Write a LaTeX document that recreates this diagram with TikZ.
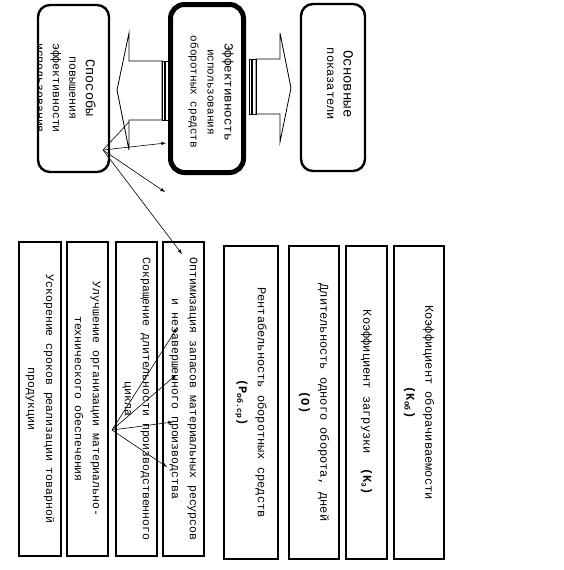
\documentclass[tikz,border=0pt]{standalone}
\usepackage{fontspec}
\setmainfont{Liberation Mono}
\begin{document}
\begin{tikzpicture}[>=latex,x=1pt,y=-1pt,
  oval/.style={draw,rounded corners=12pt,line width=2.4pt,rotate=-90,inner sep=0pt},
  item/.style={draw,line width=1.1pt,rotate=-90,inner sep=0pt,align=center,font=\fontsize{11.5}{18}\selectfont},
  pokaz/.style={item,font=\fontsize{12}{19}\selectfont,minimum width=313pt},
  txt/.style={rotate=-90,align=center,inner sep=0pt},
  fan/.style={->,line width=0.6pt}]
        \useasboundingbox (0,0) rectangle (564,570);
        %верхняя часть
        \draw[line width=0.8pt](129,33)--(117,90)--(129,150)--(129,120)--(162,120)--(162,61)--(129,61)--cycle;
        \draw[line width=0.8pt](162,61)rectangle(164,120) (165,61)rectangle(168,120);
        \draw[line width=0.8pt](249,59)rectangle(251,114) (252,59)rectangle(256,114);
        \draw[line width=0.8pt](256,59)--(280,59)--(280,33)--(291,88)--(280,142)--(280,114)--(256,114)--cycle;
        \node[oval,minimum width=167pt,minimum height=71pt](sposoby) at (73.5,88.5){};
        \node[oval,line width=5pt,rounded corners=14pt,minimum width=168pt,minimum height=73pt](effekt) at (207,88.5){};
        \node[oval,minimum width=167pt,minimum height=64pt](osnov) at (333,87.5){};
        \begin{scope}
        \clip[rounded corners=10pt](sposoby.north west)rectangle(sposoby.south east);
        \node[txt,font=\fontsize{11.5}{16.5}\selectfont](sposoby-t) at (66,88){{\fontsize{13.5}{16.5}\selectfont Способы}\\повышения\\эффективности\\использования};
        \end{scope}
        \node[txt,font=\fontsize{11}{17}\selectfont](effekt-t) at (211,92){{\fontsize{12.5}{17}\selectfont Эффективность}\\использования\\оборотных средств};
        \node[txt,font=\fontsize{12}{16.5}\selectfont](osnov-t) at (340,84){{\fontsize{14}{16.5}\selectfont Основные}\\показатели};
        %нижняя часть
        \node[item,minimum width=314pt,minimum height=42pt](uskor) at (40,399){Ускорение сроков реализации товарной\\продукции};
        \node[item,minimum width=314pt,minimum height=41pt](uluch) at (87.5,399){Улучшение организации материально-\\технического обеспечения};
        \node[item,minimum width=314pt,minimum height=41pt](sokr) at (136.5,399){Сокращение длительности производственного\\цикла};
        \node[item,minimum width=314pt,minimum height=41pt](optim) at (183.5,399){Оптимизация запасов материальных ресурсов\\и незавершенного производства};
        \node[pokaz,minimum height=54pt](rentab) at (251,402.5){Рентабельность оборотных средств\\\textbf{(Р\textsubscript{об.ср})}};
        \node[pokaz,minimum height=50pt](dlit) at (314,402.5){Длительность одного оборота, дней\\\textbf{(О)}};
        \node[pokaz,minimum height=41pt](zagr) at (366.5,402.5){Коэффициент загрузки\ \ \textbf{(К\textsubscript{з})}};
        \node[pokaz,minimum height=50pt](oborach) at (419,402.5){Коэффициент оборачиваемости\\\textbf{(К\textsubscript{об})}};
        %стрелки
        \coordinate (f1) at (103,150);
        \coordinate (f2) at (112,430);
        \coordinate (e0) at (129,122);
        \coordinate (e1) at (166,143);
        \coordinate (e2) at (165,192);
        \coordinate (e3) at (182,254);
        \coordinate (e4) at (177,328);
        \coordinate (e5) at (176,375);
        \coordinate (e6) at (173,422);
        \coordinate (e7) at (167,467);
        \draw[line width=0.6pt](f1)--(e0);
        \foreach \i in {1,2,3}{
        \draw[fan](f1)--(e\i);
        }
        \foreach \i in {4,...,7}{
        \draw[fan](f2)--(e\i);
        }
\end{tikzpicture}
\end{document}
